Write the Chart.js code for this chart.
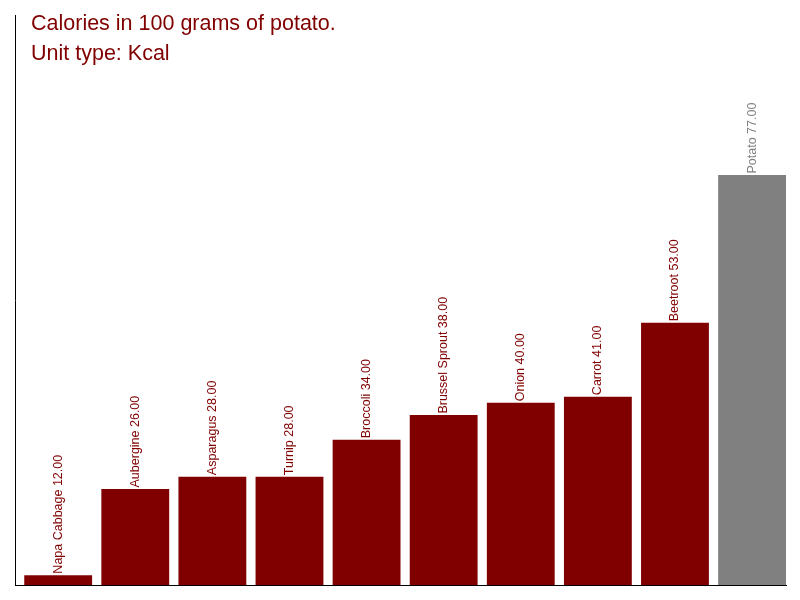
<!DOCTYPE html>
<html>
<head>
<meta charset="utf-8">
<script src="https://cdn.jsdelivr.net/npm/chart.js@4"></script>
<style>
  html, body { margin: 0; padding: 0; background: #fff; }
  #wrap { width: 800px; height: 600px; }
</style>
</head>
<body>
<div id="wrap"><canvas id="chart" width="800" height="600"></canvas></div>
<script>
// data
const vegetables = ['Napa Cabbage', 'Aubergine', 'Asparagus', 'Turnip', 'Broccoli',
  'Brussel Sprout', 'Onion', 'Carrot', 'Beetroot', 'Potato'];
const kcal = [12, 26, 28, 28, 34, 38, 40, 41, 53, 77];
const titleLines = ['Calories in 100 grams of potato.', 'Unit type: Kcal'];

const barColors = vegetables.map(v => v === 'Potato' ? '#808080' : '#800000');

// rotated value labels on top of each bar
const barLabels = {
  id: 'barLabels',
  afterDatasetsDraw(chart) {
    const ctx = chart.ctx;
    const meta = chart.getDatasetMeta(0);
    ctx.save();
    ctx.font = '12.5px "Liberation Sans", Arial, sans-serif';
    ctx.textAlign = 'left';
    ctx.textBaseline = 'middle';
    meta.data.forEach((bar, i) => {
      ctx.save();
      ctx.translate(bar.x, bar.y - 1.5);
      ctx.rotate(-Math.PI / 2);
      ctx.fillStyle = barColors[i];
      ctx.fillText(vegetables[i] + ' ' + kcal[i].toFixed(2), 0, 0);
      ctx.restore();
    });
    ctx.restore();
  }
};

// title drawn over the plot area
const titleText = {
  id: 'titleText',
  afterDraw(chart) {
    const ctx = chart.ctx;
    ctx.save();
    ctx.font = '21.5px "Liberation Sans", Arial, sans-serif';
    ctx.fillStyle = '#800000';
    ctx.textAlign = 'left';
    ctx.textBaseline = 'alphabetic';
    ctx.fillText(titleLines[0], 31, 30);
    ctx.fillText(titleLines[1], 31, 60);
    ctx.restore();
  }
};

new Chart(document.getElementById('chart'), {
  type: 'bar',
  data: {
    datasets: [{
      data: kcal.map((v, i) => ({ x: i, y: v })),
      backgroundColor: barColors,
      borderWidth: 0,
      categoryPercentage: 1,
      barPercentage: 0.88
    }]
  },
  options: {
    responsive: false,
    animation: false,
    layout: { padding: { left: 15, top: 15, right: 14, bottom: 15 } },
    plugins: { legend: { display: false }, tooltip: { enabled: false }, title: { display: false } },
    scales: {
      x: {
        type: 'linear',
        offset: false,
        min: -0.56,
        max: 9.44,
        ticks: { display: false, padding: 0 },
        grid: { display: false, drawTicks: false, tickLength: 0 },
        border: { display: true, color: '#000', width: 1 }
      },
      y: {
        min: 10.4,
        max: 103,
        ticks: { display: false, padding: 0 },
        grid: { display: false, drawTicks: false, tickLength: 0 },
        border: { display: true, color: '#000', width: 1 }
      }
    }
  },
  plugins: [barLabels, titleText]
});
</script>
</body>
</html>
